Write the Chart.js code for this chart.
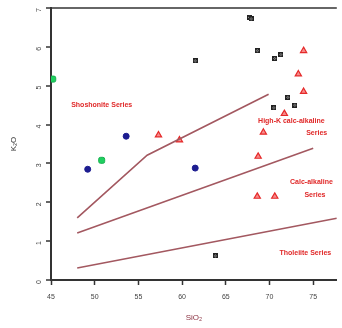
<!DOCTYPE html>
<html>
<head>
<meta charset="utf-8">
<script src="https://cdn.jsdelivr.net/npm/chart.js@4.4.1/dist/chart.umd.min.js"></script>
<style>
  html, body { margin: 0; padding: 0; background: #fff; }
  #wrap { width: 342px; height: 328px; }
</style>
</head>
<body>
<div id="wrap"><canvas id="c" width="342" height="328"></canvas></div>
<script>
// SiO2 (wt%) / K2O (wt%) samples by group
const greenSiO2 = [45.2, 50.8];
const greenK2O  = [5.17, 3.08];

const blueSiO2 = [49.2, 53.6, 61.5];
const blueK2O  = [2.85, 3.70, 2.88];

const triSiO2 = [57.3, 59.7, 73.9, 73.3, 73.9, 71.7, 69.3, 68.7, 68.6, 70.6];
const triK2O  = [3.73, 3.60, 5.90, 5.30, 4.85, 4.28, 3.80, 3.18, 2.15, 2.15];

const crossSiO2 = [67.7, 67.9, 68.6, 70.6, 71.3, 72.1, 72.9, 70.5, 61.5, 63.8];
const crossK2O  = [6.76, 6.72, 5.90, 5.70, 5.80, 4.70, 4.50, 4.43, 5.64, 0.62];

// Series boundary lines
const shoshBoundSiO2 = [48.0, 56.0, 69.9];
const shoshBoundK2O  = [1.60, 3.21, 4.78];
const hiKBoundSiO2 = [48.0, 75.0];
const hiKBoundK2O  = [1.21, 3.39];
const thBoundSiO2 = [48.0, 77.7];
const thBoundK2O  = [0.31, 1.59];

// Field names and their anchor points (SiO2, K2O)
const fieldText = ['Shoshonite Series', 'High-K calc-alkaline', 'Series', 'Calc-alkaline', 'Series', 'Tholeiite Series'];
const fieldSiO2 = [50.8, 72.5, 75.4, 74.8, 75.2, 74.1];
const fieldK2O  = [4.49, 4.10, 3.78, 2.51, 2.18, 0.69];

const xTicks = [45, 50, 55, 60, 65, 70, 75];

const pts = (xs, ys) => xs.map((x, i) => ({ x, y: ys[i] }));

// boxed-cross marker
const boxX = document.createElement('canvas');
boxX.width = 5; boxX.height = 5;
(function () {
  const g = boxX.getContext('2d');
  g.fillStyle = '#9a9a9a';
  g.fillRect(0, 0, 5, 5);
  g.strokeStyle = '#222';
  g.lineWidth = 1;
  g.strokeRect(0.5, 0.5, 4, 4);
  g.beginPath();
  g.moveTo(1, 1); g.lineTo(4, 4);
  g.moveTo(4, 1); g.lineTo(1, 4);
  g.stroke();
})();

const lineColor = '#a35860';

const fieldLabels = {
  id: 'fieldLabels',
  afterDatasetsDraw(chart) {
    const { ctx, scales } = chart;
    ctx.save();
    ctx.font = 'bold 7px "Liberation Sans", Arial, sans-serif';
    ctx.fillStyle = '#e02828';
    ctx.textAlign = 'center';
    ctx.textBaseline = 'middle';
    fieldText.forEach((t, i) => {
      ctx.fillText(t, scales.x.getPixelForValue(fieldSiO2[i]), scales.y.getPixelForValue(fieldK2O[i]));
    });
    ctx.restore();
  }
};

new Chart(document.getElementById('c'), {
  type: 'scatter',
  data: {
    datasets: [
      { data: pts(shoshBoundSiO2, shoshBoundK2O), showLine: true, borderColor: lineColor, borderWidth: 1.6, pointRadius: 0, fill: false },
      { data: pts(hiKBoundSiO2, hiKBoundK2O), showLine: true, borderColor: lineColor, borderWidth: 1.6, pointRadius: 0, fill: false },
      { data: pts(thBoundSiO2, thBoundK2O), showLine: true, borderColor: lineColor, borderWidth: 1.6, pointRadius: 0, fill: false },
      { data: pts(greenSiO2, greenK2O), pointStyle: 'rectRounded', pointRadius: 3.5, backgroundColor: '#1fd060', borderColor: '#18b050', borderWidth: 1 },
      { data: pts(blueSiO2, blueK2O), pointStyle: 'circle', pointRadius: 3, backgroundColor: '#1c1c90', borderColor: '#1c1c90', borderWidth: 1 },
      { data: pts(triSiO2, triK2O), pointStyle: 'triangle', pointRadius: 3.6, backgroundColor: 'rgba(245,110,110,0.8)', borderColor: '#e52a2a', borderWidth: 1.2 },
      { data: pts(crossSiO2, crossK2O), pointStyle: boxX, pointRadius: 3 }
    ]
  },
  options: {
    responsive: false,
    animation: false,
    devicePixelRatio: 1,
    layout: { padding: { top: 8, left: 0, right: 0, bottom: 0 } },
    plugins: { legend: { display: false }, tooltip: { enabled: false } },
    scales: {
      x: {
        type: 'linear',
        min: 45, max: 77.7,
        afterBuildTicks: s => { s.ticks = xTicks.map(v => ({ value: v })); },
        afterFit: s => { s.height = 48; s.paddingLeft = 0; s.paddingRight = 0; },
        border: { display: true, color: '#333', width: 2 },
        grid: { drawOnChartArea: false, tickLength: 5, tickColor: '#333', tickWidth: 1.5 },
        ticks: { padding: 8, color: '#444', font: { family: 'Liberation Sans', size: 7 }, maxRotation: 0 },
        title: { display: true, text: 'SiO₂', color: '#8a3040', font: { family: 'Liberation Sans', size: 8 }, padding: { top: 0, bottom: 5 } }
      },
      y: {
        min: 0, max: 7,
        afterFit: s => { s.width = 51; s.paddingTop = 0; s.paddingBottom = 0; },
        border: { display: true, color: '#333', width: 2 },
        grid: {
          drawOnChartArea: true,
          color: c => (c.tick && c.tick.value === 7 ? '#666' : 'rgba(0,0,0,0)'),
          lineWidth: c => (c.tick && c.tick.value === 7 ? 2 : 0),
          tickLength: 5, tickColor: '#333', tickWidth: 1.5
        },
        ticks: { stepSize: 1, padding: 7, color: '#444', minRotation: 90, maxRotation: 90, font: { family: 'Liberation Sans', size: 7 } },
        title: { display: true, text: 'K₂O', color: '#333', font: { family: 'Liberation Sans', size: 8 }, padding: { top: 9, bottom: 0 } }
      }
    }
  },
  plugins: [fieldLabels]
});
</script>
</body>
</html>
